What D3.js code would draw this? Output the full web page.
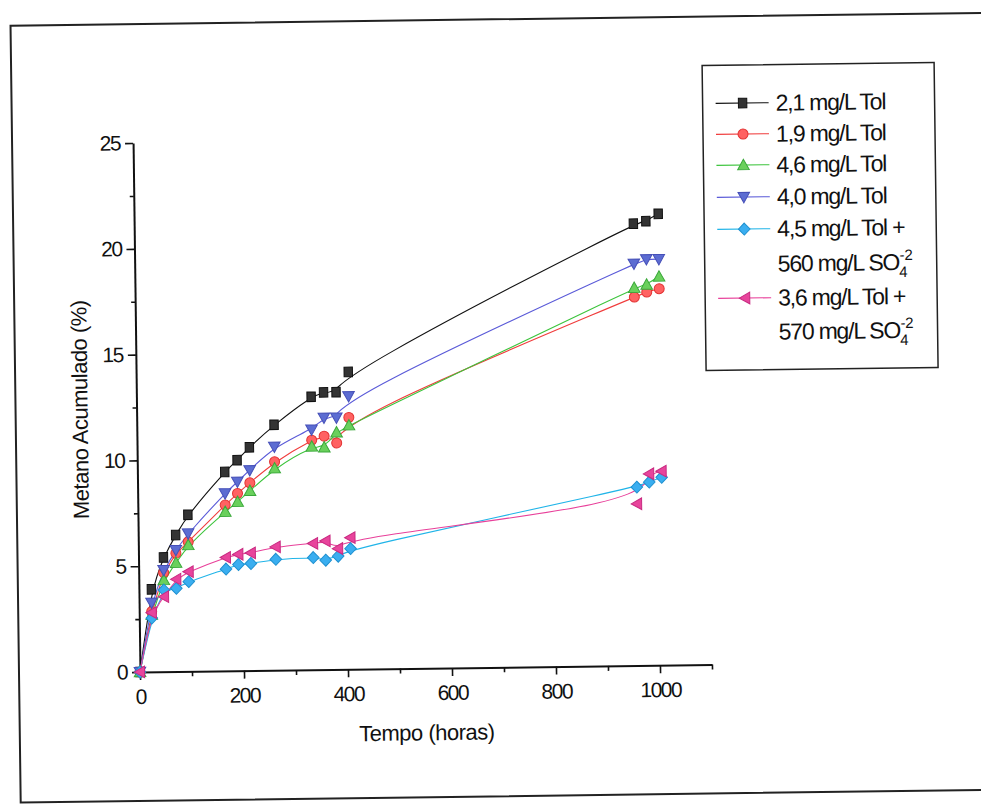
<!DOCTYPE html>
<html>
<head>
<meta charset="utf-8">
<script src="https://cdn.jsdelivr.net/npm/d3@7"></script>
<style>
  html, body { margin: 0; padding: 0; background: #fff; }
  svg { display: block; }
  text { font-family: "Liberation Sans", Arial, sans-serif; fill: #111; }
</style>
</head>
<body>
<svg id="chart" width="981" height="805"></svg>
<script>
// Sampling times (hours)
const hours = [0, 24, 48, 72, 96, 168, 192, 216, 264, 336, 360, 384, 408, 960, 984, 1008];

// Accumulated methane (%) per condition
const tol21 = [0, 3.9, 5.4, 6.45, 7.4, 9.4, 9.95, 10.55, 11.6, 12.9, 13.1, 13.1, 14.05, 20.88, 20.99, 21.33];
const tol19 = [0, 2.85, 4.68, 5.59, 6.12, 7.84, 8.38, 8.87, 9.85, 10.85, 11.03, 10.7, 11.9, 17.41, 17.64, 17.79];
const tol46 = [0, 2.7, 4.33, 5.14, 5.97, 7.52, 7.98, 8.49, 9.54, 10.55, 10.5, 11.2, 11.53, 17.85, 17.99, 18.37];
const tol40 = [0, 3.27, 4.8, 5.74, 6.52, 8.39, 8.93, 9.47, 10.56, 11.35, 11.9, 11.9, 12.9, 18.99, 19.19, 19.19];
const tol45so4 = [0, 2.54, 3.86, 3.93, 4.24, 4.81, 5.02, 5.06, 5.24, 5.3, 5.17, 5.35, 5.7, 8.43, 8.66, 8.88];
const tol36so4 = [0, 2.8, 3.54, 4.36, 4.71, 5.36, 5.5, 5.56, 5.83, 5.97, 6.08, 5.71, 6.22, 7.64, 9.05, 9.17];

// Axis ticks
const xMajorTicks = [0, 200, 400, 600, 800, 1000];
const xMinorTicks = [100, 300, 500, 700, 900, 1100];
const yMajorTicks = [0, 5, 10, 15, 20, 25];
const yMinorTicks = [2.5, 7.5, 12.5, 17.5, 22.5];

const series = [
  { name: "2,1 mg/L Tol", values: tol21, line: "#111", fill: "#333", stroke: "#111", shape: "square" },
  { name: "1,9 mg/L Tol", values: tol19, line: "#f03c3c", fill: "#ff6262", stroke: "#e23232", shape: "circle" },
  { name: "4,6 mg/L Tol", values: tol46, line: "#3cc43c", fill: "#6ad05c", stroke: "#3aa83a", shape: "triUp" },
  { name: "4,0 mg/L Tol", values: tol40, line: "#5a5ad8", fill: "#5c6cd2", stroke: "#4650b8", shape: "triDown" },
  { name: "4,5 mg/L Tol +", name2: "560 mg/L SO", values: tol45so4, line: "#20b4e8", fill: "#3aaef0", stroke: "#1e90d0", shape: "diamond" },
  { name: "3,6 mg/L Tol +", name2: "570 mg/L SO", values: tol36so4, line: "#e8409a", fill: "#e8449c", stroke: "#c82a80", shape: "triLeft" }
];

// Marker outlines centred on (0,0)
function markerPath(shape) {
  switch (shape) {
    case "square": return "M-4.2,-4.8H4.2V4.8H-4.2Z";
    case "circle": return "M5,0A5,5 0 1,1 -5,0A5,5 0 1,1 5,0Z";
    case "triUp": return "M0,-5.8L5.8,4.6L-5.8,4.6Z";
    case "triDown": return "M0,5.8L5.8,-4.6L-5.8,-4.6Z";
    case "diamond": return "M0,-6L5.8,0L0,6L-5.8,0Z";
    case "triLeft": return "M-5.8,0L4.6,-5.8L4.6,5.8Z";
  }
}

const svg = d3.select("#chart");

// Whole sheet, slightly tilted, origin at the plot origin
const g = svg.append("g").attr("transform", "translate(140,672) rotate(-0.75)");

// Page frame
g.append("rect")
  .attr("x", -121).attr("y", -648).attr("width", 972).attr("height", 777)
  .attr("fill", "none").attr("stroke", "#222").attr("stroke-width", 2);

const x = d3.scaleLinear().domain([0, 1100]).range([0, 572]);
const y = d3.scaleLinear().domain([0, 25]).range([0, -529]);

const tickFont = g => g.selectAll("text")
  .style("font-size", "21px").style("letter-spacing", "-1.5px").attr("fill", "#111");

// X axis
g.append("g")
  .call(d3.axisBottom(x).tickValues(xMajorTicks).tickFormat(d3.format("d"))
    .tickSize(8).tickSizeOuter(0).tickPadding(9))
  .call(tickFont);
g.append("g")
  .call(d3.axisBottom(x).tickValues(xMinorTicks).tickFormat("").tickSize(5).tickSizeOuter(0))
  .call(a => a.select(".domain").remove());

// Y axis
g.append("g")
  .call(d3.axisLeft(y).tickValues(yMajorTicks).tickFormat(d3.format("d"))
    .tickSize(8).tickSizeOuter(0).tickPadding(5))
  .call(tickFont);
g.append("g")
  .call(d3.axisLeft(y).tickValues(yMinorTicks).tickFormat("").tickSize(4).tickSizeOuter(0))
  .call(a => a.select(".domain").remove());

g.selectAll(".domain").attr("stroke", "#111").attr("stroke-width", 2);
g.selectAll(".tick line").attr("stroke", "#111").attr("stroke-width", 1.6);

// Axis titles
g.append("text")
  .attr("x", 286).attr("y", 72)
  .attr("text-anchor", "middle")
  .style("font-size", "22px").style("letter-spacing", "-0.5px")
  .text("Tempo (horas)");
g.append("text")
  .attr("transform", "translate(-49,-263) rotate(-90)")
  .attr("text-anchor", "middle")
  .style("font-size", "22px").style("letter-spacing", "-0.5px")
  .text("Metano Acumulado (%)");

// Series lines (B-spline through the sampled points)
const lineGen = d3.line()
  .x(d => x(d[0]))
  .y(d => y(d[1]))
  .curve(d3.curveBasis);

series.forEach(s => {
  const pts = hours.map((h, i) => [h, s.values[i]]);
  g.append("path")
    .datum(pts)
    .attr("d", lineGen)
    .attr("fill", "none")
    .attr("stroke", s.line)
    .attr("stroke-width", 1.1);
});

// Series markers
series.forEach(s => {
  const pts = hours.map((h, i) => [h, s.values[i]]);
  g.append("g").selectAll("path")
    .data(pts)
    .join("path")
    .attr("transform", d => `translate(${x(d[0])},${y(d[1])})`)
    .attr("d", markerPath(s.shape))
    .attr("fill", s.fill)
    .attr("stroke", s.stroke)
    .attr("stroke-width", 1);
});

// Legend
const legend = g.append("g");
legend.append("rect")
  .attr("x", 570).attr("y", -599).attr("width", 232).attr("height", 305)
  .attr("fill", "#fff").attr("stroke", "#222").attr("stroke-width", 1.5);

const rowY = [-561, -530, -499, -467, -435, -366];
const row2Y = [null, null, null, null, -400, -332];
series.forEach((s, i) => {
  const ry = rowY[i];
  legend.append("line")
    .attr("x1", 583).attr("x2", 636).attr("y1", ry).attr("y2", ry)
    .attr("stroke", s.line).attr("stroke-width", 1.1);
  legend.append("path")
    .attr("transform", `translate(610,${ry})`)
    .attr("d", markerPath(s.shape))
    .attr("fill", s.fill).attr("stroke", s.stroke).attr("stroke-width", 1);
  legend.append("text")
    .attr("x", 643).attr("y", ry + 8)
    .style("font-size", "23px").style("letter-spacing", "-1.2px")
    .text(s.name);
  if (s.name2) {
    const t = legend.append("text")
      .attr("x", 643).attr("y", row2Y[i] + 8)
      .style("font-size", "23px").style("letter-spacing", "-1.2px");
    t.append("tspan").text(s.name2);
    t.append("tspan").attr("dy", 7).style("font-size", "15px").style("letter-spacing", "0px").text("4");
    t.append("tspan").attr("dx", -8).attr("dy", -17).style("font-size", "15px").style("letter-spacing", "0px").text("-2");
  }
});
</script>
</body>
</html>
